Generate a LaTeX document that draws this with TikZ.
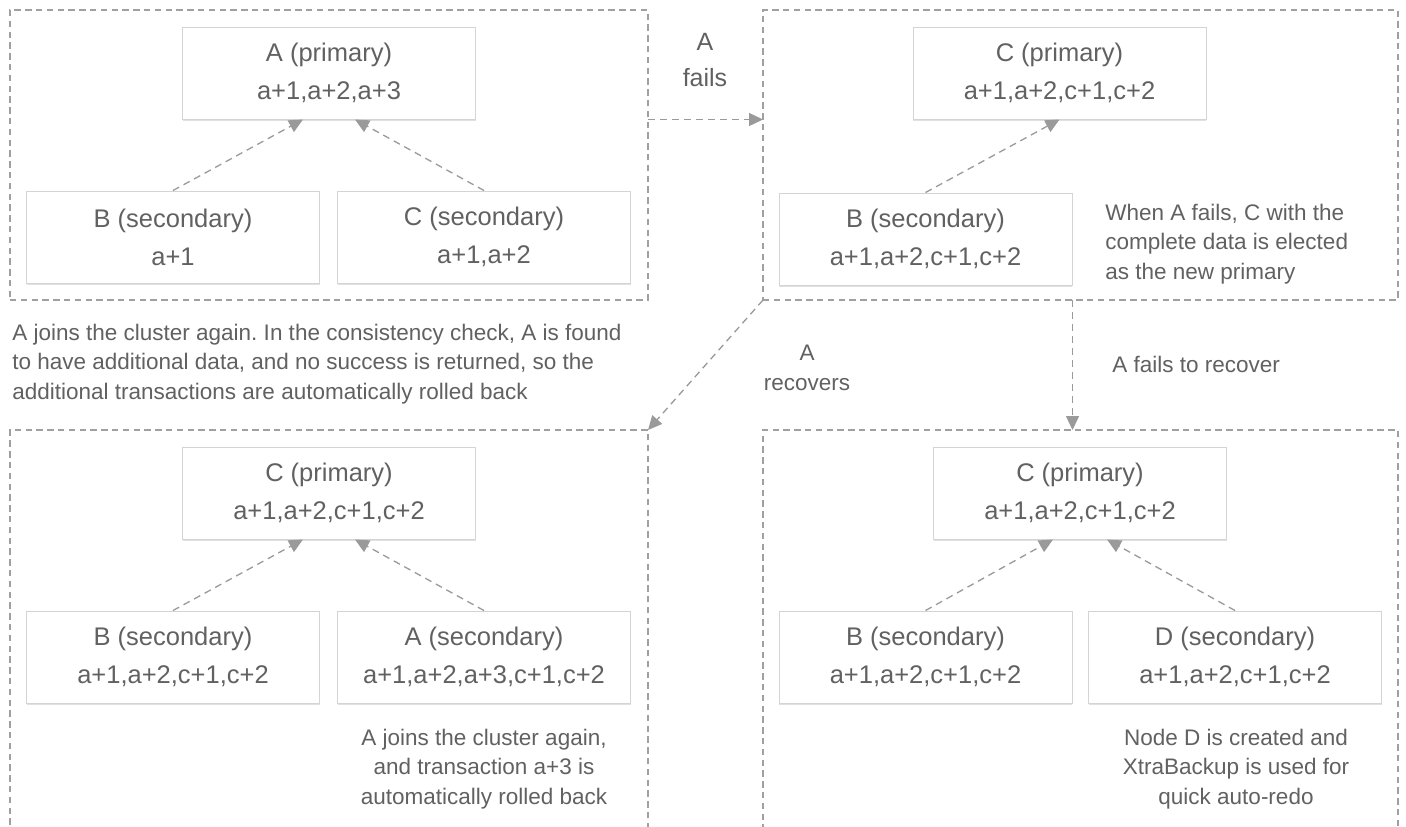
\documentclass[tikz,border=0pt]{standalone}
\usepackage{fontspec}
\setmainfont{Liberation Sans}
\frenchspacing
\usetikzlibrary{arrows.meta, calc, shadows}
\definecolor{framegray}{HTML}{A0A0A0}
\definecolor{linkgray}{HTML}{9A9A9A}
\definecolor{boxline}{HTML}{D4D4D4}
\definecolor{inkgray}{HTML}{616161}

\begin{document}
\begin{tikzpicture}[x=0.5pt, y=-0.5pt,
  cluster/.style={draw=framegray, line width=0.65pt, dash pattern=on 3.2pt off 2.2pt, inner sep=0pt, outer sep=0pt},
  dbbox/.style={draw=boxline, fill=white, line width=0.5pt, minimum width=146.5pt, minimum height=46pt, align=center, text=inkgray, font=\fontsize{12.75}{19}\selectfont, drop shadow={shadow xshift=0pt, shadow yshift=-0.8pt, fill=black, opacity=0.12}},
  link/.style={draw=linkgray, line width=0.65pt, dash pattern=on 3.5pt off 2.5pt, -{Triangle[length=7pt, width=6.5pt]}},
  note/.style={text=inkgray, inner sep=0pt, font=\fontsize{11.25}{14.75}\selectfont},
  bignote/.style={text=inkgray, inner sep=0pt, font=\fontsize{12.5}{18}\selectfont}]

  % Page
  \useasboundingbox (0,0) rectangle (1406,826);
  \clip (0,0) rectangle (1406,826);
  \fill[white] (0,0) rectangle (1406,826);

  % Before the failure
  \node[cluster, minimum width=319pt, minimum height=145pt] (before) at (329,155) {};
  \node[dbbox] (beforeA) at (329,73) {A (primary)\\a+1,a+2,a+3};
  \node[dbbox] (beforeB) at (173,237) {B (secondary)\\a+1};
  \node[dbbox] (beforeC) at (484,237) {C (secondary)\\a+1,a+2};
  \draw[link] (beforeB.north) -- ($(beforeA.south)+(-26,0)$);
  \draw[link] (beforeC.north) -- ($(beforeA.south)+(26,0)$);

  % C elected
  \node[cluster, minimum width=317.5pt, minimum height=145pt] (elect) at (1080.5,155) {};
  \node[dbbox] (electC) at (1059.5,73) {C (primary)\\a+1,a+2,c+1,c+2};
  \node[dbbox] (electB) at (925.5,239) {B (secondary)\\a+1,a+2,c+1,c+2};
  \draw[link] (electB.north) -- (electC.south);
  \node[note, anchor=west, align=left] (electnote) at (1105,244) {When A fails, C with the\\complete data is elected\\as the new primary};

  % A rejoins
  \node[cluster, minimum width=319pt, minimum height=210pt] (rejoin) at (329,640) {};
  \node[dbbox] (rejoinC) at (329,493) {C (primary)\\a+1,a+2,c+1,c+2};
  \node[dbbox] (rejoinB) at (173,657) {B (secondary)\\a+1,a+2,c+1,c+2};
  \node[dbbox] (rejoinA) at (484,657) {A (secondary)\\a+1,a+2,a+3,c+1,c+2};
  \draw[link] (rejoinB.north) -- ($(rejoinC.south)+(-26,0)$);
  \draw[link] (rejoinA.north) -- ($(rejoinC.south)+(26,0)$);
  \node[note, align=center] (rejoinnote) at (484,769) {A joins the cluster again,\\and transaction a+3 is\\automatically rolled back};

  % D rebuilt
  \node[cluster, minimum width=317.5pt, minimum height=210pt] (rebuild) at (1080.5,640) {};
  \node[dbbox] (rebuildC) at (1080,493) {C (primary)\\a+1,a+2,c+1,c+2};
  \node[dbbox] (rebuildB) at (925.5,657) {B (secondary)\\a+1,a+2,c+1,c+2};
  \node[dbbox] (rebuildD) at (1235,657) {D (secondary)\\a+1,a+2,c+1,c+2};
  \draw[link] (rebuildB.north) -- ($(rebuildC.south)+(-27,0)$);
  \draw[link] (rebuildD.north) -- ($(rebuildC.south)+(27,0)$);
  \node[note, align=center] (rebuildnote) at (1236,769) {Node D is created and\\XtraBackup is used for\\quick auto-redo};

  % Transitions
  \draw[link] (before.east |- beforeA.south) -- (elect.west |- beforeA.south);
  \node[bignote, align=center] (failslabel) at (705,60) {A\\fails};
  \draw[link] (elect.south west) -- (rejoin.north east);
  \node[note, align=center] (recoverlabel) at (807,368) {A\\recovers};
  \draw[link] (electB.east |- elect.south) -- (electB.east |- rebuild.north);
  \node[note, anchor=west] (norecoverlabel) at (1112,364) {A fails to recover};

  % Consistency check note
  \node[note, anchor=west, align=left] (checknote) at (12,364) {A joins the cluster again. In the consistency check, A is found\\to have additional data, and no success is returned, so the\\additional transactions are automatically rolled back};
\end{tikzpicture}
\end{document}
